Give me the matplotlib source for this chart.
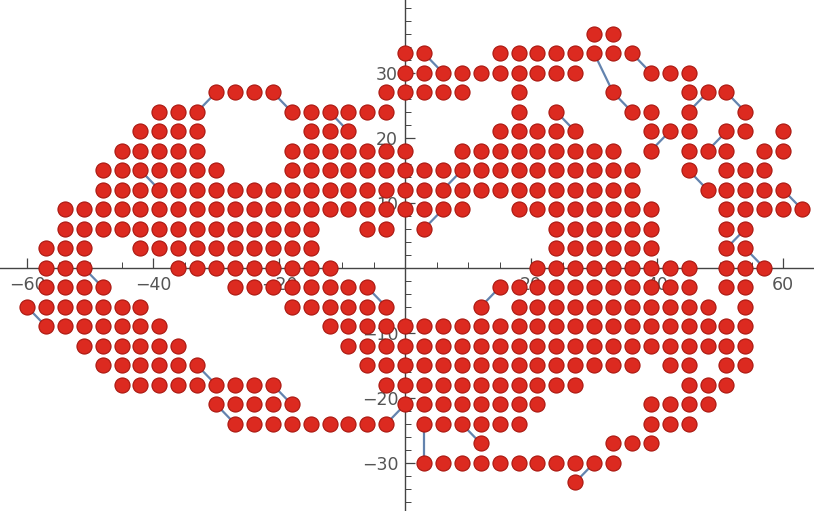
import matplotlib
matplotlib.use("Agg")
import matplotlib.pyplot as plt
from matplotlib.ticker import MultipleLocator, FixedLocator

STEP = 3

# occupied lattice sites, row by row: y value and runs of x (inclusive, step 3)
row_y = [36, 33, 30, 27, 24, 21, 18, 15, 12, 9, 6, 3, 0,
         -3, -6, -9, -12, -15, -18, -21, -24, -27, -30, -33]
row_runs = [
    [(30, 33)],
    [(0, 3), (15, 36)],
    [(0, 27), (39, 45)],
    [(-30, -21), (-3, 9), (18, 18), (33, 33), (45, 51)],
    [(-39, -33), (-18, -3), (18, 18), (24, 24), (36, 39), (45, 45), (54, 54)],
    [(-42, -33), (-15, -9), (15, 27), (39, 45), (51, 54), (60, 60)],
    [(-45, -33), (-18, 0), (9, 33), (39, 39), (45, 51), (57, 60)],
    [(-48, -30), (-18, 36), (45, 45), (51, 57)],
    [(-48, 36), (48, 60)],
    [(-54, 9), (18, 39), (51, 63)],
    [(-54, -15), (-6, -3), (3, 3), (24, 39), (51, 54)],
    [(-57, -51), (-42, -15), (24, 39), (51, 54)],
    [(-57, -51), (-36, -12), (21, 45), (51, 57)],
    [(-57, -48), (-27, -6), (15, 45), (51, 54)],
    [(-60, -42), (-18, -3), (12, 12), (18, 48), (54, 54)],
    [(-57, -39), (-12, 54)],
    [(-51, -36), (-9, 54)],
    [(-48, -33), (-6, 36), (42, 45), (51, 54)],
    [(-45, -21), (-3, 27), (45, 51)],
    [(-30, -18), (0, 21), (39, 48)],
    [(-27, -3), (3, 18), (39, 45)],
    [(12, 12), (33, 39)],
    [(3, 33)],
    [(27, 27)],
]

# visible path segments (non-unit steps of the walk)
link_x0 = [-33, -21, -12, 3, 30, 33, 36, 45, 51, 24, 39, 48, 45, 60, 51, 54,
           6, 3, 12, -6, -51, -60, -42, -33, -30, -21, 0, 3, 9, 27]
link_y0 = [24, 27, 24, 33, 33, 27, 33, 24, 27, 24, 18, 18, 15, 12, 3, 3,
           12, 6, -6, -3, 0, -6, 15, -15, -21, -18, -21, -24, -24, -33]
link_x1 = [-30, -18, -9, 6, 33, 36, 39, 48, 54, 27, 42, 51, 48, 63, 54, 57,
           9, 6, 15, -3, -48, -57, -39, -30, -27, -18, -3, 3, 12, 30]
link_y1 = [27, 24, 21, 30, 27, 24, 30, 27, 24, 21, 21, 21, 12, 9, 6, 0,
           15, 9, -3, -6, -3, -9, 12, -18, -24, -21, -24, -30, -27, -30]

x_major = [-60, -40, -20, 20, 40, 60]
y_major = [-30, -20, -10, 10, 20, 30]

xs, ys = [], []
for y, runs in zip(row_y, row_runs):
    for a, b in runs:
        for x in range(a, b + 1, STEP):
            xs.append(x)
            ys.append(y)

fig = plt.figure(figsize=(8.14, 5.11), dpi=100)
ax = fig.add_axes([0, 0, 1, 1])
ax.set_xlim(-64.3, 64.9)
ax.set_ylim(-37.4, 41.2)

line_color = "#6383AE"
for x0, y0, x1, y1 in zip(link_x0, link_y0, link_x1, link_y1):
    ax.plot([x0, x1], [y0, y1], color=line_color, lw=1.6, zorder=2.8,
            solid_capstyle="round")

ax.scatter(xs, ys, s=118, facecolor="#DC2A20", edgecolor="#A8170F",
           linewidths=0.8, zorder=3)

for side in ["top", "right"]:
    ax.spines[side].set_visible(False)
ax.spines["left"].set_position(("data", 0))
ax.spines["bottom"].set_position(("data", 0))
for side in ["left", "bottom"]:
    ax.spines[side].set_color("#444444")
    ax.spines[side].set_linewidth(1.0)
    ax.spines[side].set_zorder(2.5)

ax.xaxis.set_major_locator(FixedLocator(x_major))
ax.yaxis.set_major_locator(FixedLocator(y_major))
ax.xaxis.set_minor_locator(MultipleLocator(5))
ax.yaxis.set_minor_locator(MultipleLocator(2))
ax.tick_params(which="major", direction="in", length=7, width=0.9,
               color="#444444", labelcolor="#555555", labelsize=12.5)
ax.tick_params(which="minor", direction="in", length=4, width=0.7,
               color="#444444")
ax.tick_params(axis="x", which="major", pad=6)
ax.tick_params(axis="y", which="major", pad=5)
ax.set_axisbelow(True)

fig.savefig("out.png", dpi=100)
